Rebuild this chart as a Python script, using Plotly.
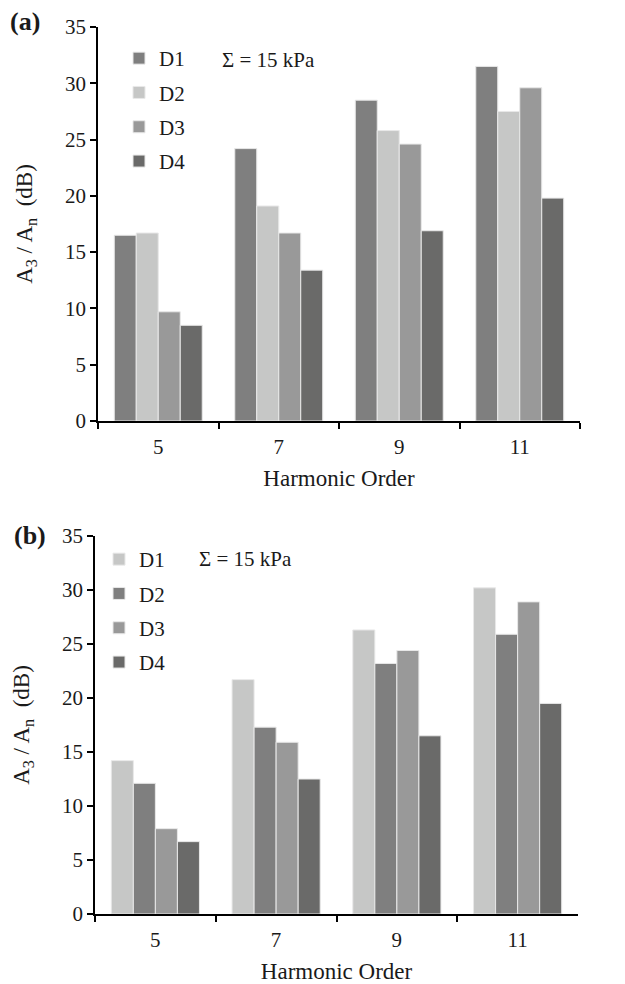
import plotly.graph_objects as go

categories = ["5", "7", "9", "11"]
series_names = ["D1", "D2", "D3", "D4"]

a_D1 = [16.5, 24.2, 28.5, 31.5]
a_D2 = [16.7, 19.1, 25.8, 27.5]
a_D3 = [9.7, 16.7, 24.6, 29.6]
a_D4 = [8.5, 13.4, 16.9, 19.8]

b_D1 = [14.2, 21.7, 26.3, 30.2]
b_D2 = [12.1, 17.3, 23.2, 25.9]
b_D3 = [7.9, 15.9, 24.4, 28.9]
b_D4 = [6.7, 12.5, 16.5, 19.5]

colors_a = ["#7f7f7f", "#c6c7c6", "#999999", "#6a6a69"]
colors_b = ["#c6c7c6", "#7f7f7f", "#999999", "#6a6a69"]

FONT = "Liberation Serif"
fig = go.Figure()

for i, (name, vals) in enumerate(zip(series_names, [a_D1, a_D2, a_D3, a_D4])):
    fig.add_trace(go.Bar(x=categories, y=vals, name=name, xaxis="x", yaxis="y",
                         marker=dict(color=colors_a[i], line=dict(color="#e8e8e8", width=1)),
                         legend="legend", legendgroup="a" + name))
for i, (name, vals) in enumerate(zip(series_names, [b_D1, b_D2, b_D3, b_D4])):
    fig.add_trace(go.Bar(x=categories, y=vals, name=name, xaxis="x2", yaxis="y2",
                         marker=dict(color=colors_b[i], line=dict(color="#e8e8e8", width=1)),
                         legend="legend2", legendgroup="b" + name))

ytitle = "A<sub>3</sub> / A<sub>n</sub>  (dB)"
axis_common = dict(showline=True, linecolor="black", linewidth=1.5, ticks="outside",
                   tickcolor="black", ticklen=6, tickwidth=1.5, showgrid=False, zeroline=False,
                   automargin=False,
                   tickfont=dict(family=FONT, size=21, color="#1a1a1a"))
TITLE_FONT = dict(family=FONT, size=23, color="#1a1a1a")

fig.update_layout(
    template="none",
    width=625, height=984,
    margin=dict(l=0, r=0, t=0, b=0),
    paper_bgcolor="white", plot_bgcolor="white",
    font=dict(family=FONT, color="#1a1a1a"),
    barmode="group", bargap=0.27, bargroupgap=0,
    xaxis=dict(domain=[98/625, 580/625], anchor="y", type="category", tickson="boundaries",
               ticklabelstandoff=6,
               title=dict(text="Harmonic Order", font=TITLE_FONT, standoff=12),
               **axis_common),
    yaxis=dict(domain=[1-421/984, 1-27/984], anchor="x", range=[0, 35], dtick=5,
               title=dict(text=ytitle, font=TITLE_FONT, standoff=26),
               **axis_common),
    xaxis2=dict(domain=[95/625, 578/625], anchor="y2", type="category", tickson="boundaries",
                ticklabelstandoff=6,
                title=dict(text="Harmonic Order", font=TITLE_FONT, standoff=14),
                **axis_common),
    yaxis2=dict(domain=[1-914/984, 1-536/984], anchor="x2", range=[0, 35], dtick=5,
                title=dict(text=ytitle, font=TITLE_FONT, standoff=26),
                **axis_common),
    legend=dict(x=119/625, y=1-38/984, xanchor="left", yanchor="top", bgcolor="rgba(0,0,0,0)",
                font=dict(family=FONT, size=21, color="#1a1a1a"), tracegroupgap=4, itemwidth=30),
    legend2=dict(x=99/625, y=1-539/984, xanchor="left", yanchor="top", bgcolor="rgba(0,0,0,0)",
                 font=dict(family=FONT, size=21, color="#1a1a1a"), tracegroupgap=4, itemwidth=30),
    annotations=[
        dict(text="Σ = 15 kPa", x=220/625, y=1-60/984, xref="paper", yref="paper",
             xanchor="left", yanchor="middle", showarrow=False, font=dict(family=FONT, size=21)),
        dict(text="Σ = 15 kPa", x=197/625, y=1-559/984, xref="paper", yref="paper",
             xanchor="left", yanchor="middle", showarrow=False, font=dict(family=FONT, size=21)),
        dict(text="<b>(a)</b>", x=8/625, y=1-22/984, xref="paper", yref="paper",
             xanchor="left", yanchor="middle", showarrow=False, font=dict(family=FONT, size=26)),
        dict(text="<b>(b)</b>", x=12/625, y=1-535/984, xref="paper", yref="paper",
             xanchor="left", yanchor="middle", showarrow=False, font=dict(family=FONT, size=26)),
    ],
)

fig.write_html("out.html")
